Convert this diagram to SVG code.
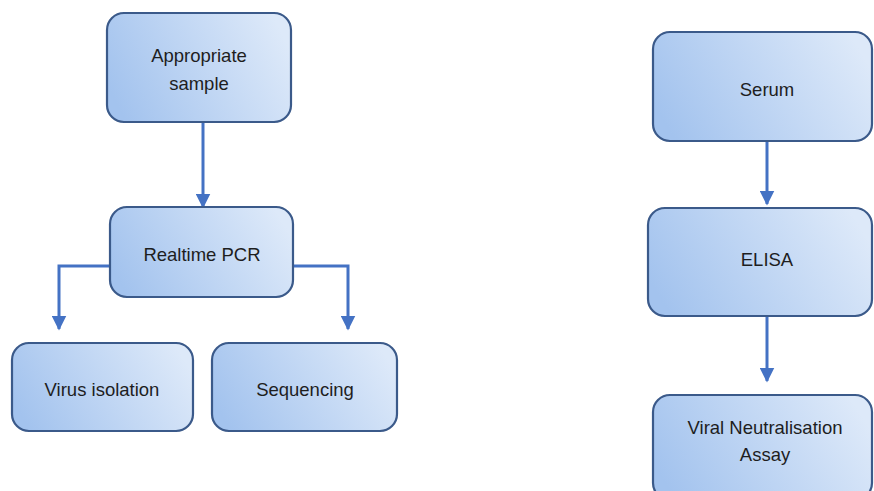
<svg xmlns="http://www.w3.org/2000/svg" width="874" height="491" viewBox="0 0 874 491">
<defs>
<linearGradient id="g" x1="0" y1="0.65" x2="1" y2="0.35">
<stop offset="0" stop-color="#a3c3ee"/>
<stop offset="1" stop-color="#dde9f9"/>
</linearGradient>
<marker id="ah" markerWidth="5" markerHeight="5" refX="4.5" refY="2.5" orient="auto" markerUnits="strokeWidth">
<path d="M0,0 L5,2.5 L0,5 Z" fill="#4472c4"/>
</marker>
<style>
.box{fill:url(#g);stroke:#3b5a8a;stroke-width:2.2}
.lbl{font-family:"Liberation Sans",Arial,sans-serif;font-size:18.5px;fill:#1e1e1e;text-anchor:middle}
.c{fill:none;stroke:#4472c4;stroke-width:3;marker-end:url(#ah)}
</style>
</defs>
<rect width="874" height="491" fill="#fff"/>
<g id="connectors">
<path class="c" d="M203,122 V207"/>
<path class="c" d="M110,266 H59 V329"/>
<path class="c" d="M293,266 H348 V329"/>
<path class="c" d="M767,141 V204"/>
<path class="c" d="M767,316 V381"/>
</g>
<g id="n1"><rect class="box" x="107" y="13" width="184" height="109" rx="17"/>
<text class="lbl" x="199" y="62">Appropriate</text><text class="lbl" x="199" y="90">sample</text></g>
<g id="n2"><rect class="box" x="110" y="207" width="183" height="90" rx="17"/>
<text class="lbl" x="202" y="261">Realtime PCR</text></g>
<g id="n3"><rect class="box" x="12" y="343" width="181" height="88" rx="17"/>
<text class="lbl" x="102" y="396">Virus isolation</text></g>
<g id="n4"><rect class="box" x="212" y="343" width="185" height="88" rx="17"/>
<text class="lbl" x="305" y="396">Sequencing</text></g>
<g id="n5"><rect class="box" x="653" y="32" width="219" height="109" rx="17"/>
<text class="lbl" x="767" y="96">Serum</text></g>
<g id="n6"><rect class="box" x="648" y="208" width="224" height="108" rx="17"/>
<text class="lbl" x="767" y="266">ELISA</text></g>
<g id="n7"><rect class="box" x="653" y="395" width="219" height="105" rx="17"/>
<text class="lbl" x="765" y="434">Viral Neutralisation</text><text class="lbl" x="765" y="461">Assay</text></g>
</svg>
